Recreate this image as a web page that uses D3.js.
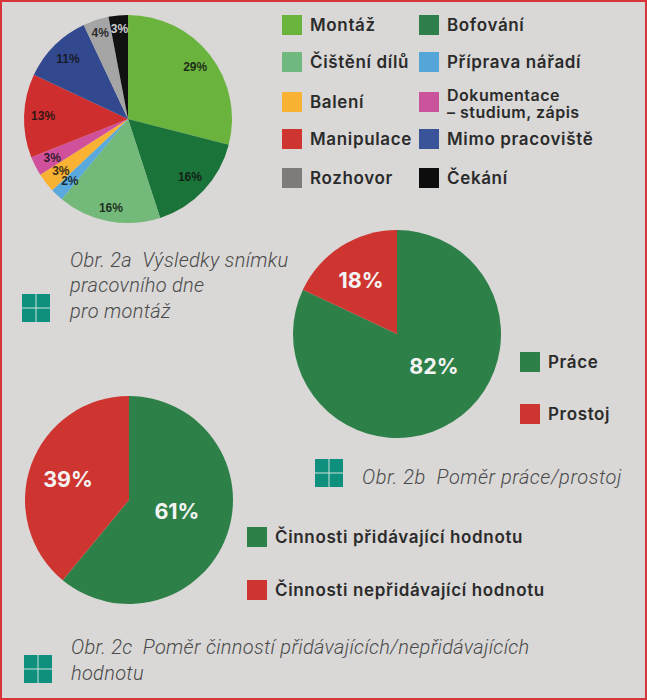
<!DOCTYPE html>
<html>
<head>
<meta charset="utf-8">
<script src="https://cdn.jsdelivr.net/npm/d3@7"></script>
<style>
    html, body { margin: 0; padding: 0; background: #d9d8d7; overflow: hidden; }
    svg { display: block; }
    text { white-space: pre; }
    .legend { font-family: Inter, sans-serif; font-weight: 600; font-size: 17px; letter-spacing: 0.65px; fill: #2b2b2b; }
    .legend.tight { font-size: 16px; letter-spacing: 0.5px; }
    .caption { font-family: Roboto, sans-serif; font-style: italic; font-weight: 300; font-size: 20px; letter-spacing: 0.3px; fill: #4a4a4a; }
    .small-label { font-family: "Liberation Sans", sans-serif; font-weight: 700; font-size: 12px; text-anchor: middle; }
    .big-label { font-family: Inter, sans-serif; font-weight: 700; font-size: 21.5px; fill: #f4f4f4; text-anchor: middle; }
</style>
</head>
<body>
<svg id="chart" width="647" height="700"></svg>
<script>
const activities = ["Montáž", "Bofování", "Čištění dílů", "Příprava nářadí", "Balení",
    "Dokumentace – studium, zápis", "Manipulace", "Mimo pracoviště", "Rozhovor", "Čekání"];
const activityValues = [29, 16, 16, 2, 3, 3, 13, 11, 4, 3];
const activityColors = ["#6ab43e", "#1a7339", "#73b979", "#5aa9dc", "#f9b233",
    "#d0509c", "#cf2e2e", "#33498f", "#a5a5a5", "#111111"];
const activitySwatches = ["#6ab43e", "#2f7f4a", "#6fb97f", "#55a5d8", "#f9b233",
    "#c9549b", "#cf3530", "#3a5499", "#7e7b7a", "#0d0d0d"];

const workCategories = ["Práce", "Prostoj"];
const workValues = [82, 18];

const valueCategories = ["Činnosti přidávající hodnotu", "Činnosti nepřidávající hodnotu"];
const valueValues = [61, 39];

const green = "#2e8049", red = "#cf3530";

const svg = d3.select("#chart");

svg.append("rect")
    .attr("x", 1).attr("y", 1)
    .attr("width", 645).attr("height", 698)
    .attr("fill", "#d9d8d7")
    .attr("stroke", "#d8343a")
    .attr("stroke-width", 2);

const pie = d3.pie().sort(null).value(d => d);

function drawPie(values, colors, cx, cy) {
    const g = svg.append("g").attr("transform", `translate(${cx},${cy})`);
    const arc = d3.arc().innerRadius(0).outerRadius(104);
    const slices = pie(values);
    g.selectAll("path")
        .data(slices)
        .enter().append("path")
        .attr("d", arc)
        .attr("fill", (d, i) => colors[i]);
    return { g, slices };
}

// first pie, labels sit near the rim, a few of them further out
const pieA = drawPie(activityValues, activityColors, 128, 119);
const labelRadius = [85, 85, 91, 85, 85, 85, 85, 85, 90, 90];
function labelPos(d, i) {
    return d3.arc().innerRadius(labelRadius[i]).outerRadius(labelRadius[i]).centroid(d);
}
pieA.g.selectAll("text")
    .data(pieA.slices)
    .enter().append("text")
    .attr("class", "small-label")
    .attr("x", (d, i) => labelPos(d, i)[0])
    .attr("y", (d, i) => labelPos(d, i)[1] + 4)
    .attr("fill", (d, i) => i === 9 ? "#f2f2f2" : "#111")
    .attr("fill-opacity", 0.85)
    .text(d => d.value + "%");

function bigLabels(p, offsets) {
    const arc = d3.arc().innerRadius(0).outerRadius(104);
    p.g.selectAll("text")
        .data(p.slices)
        .enter().append("text")
        .attr("class", "big-label")
        .attr("x", (d, i) => arc.centroid(d)[0] + offsets[i][0])
        .attr("y", (d, i) => arc.centroid(d)[1] + offsets[i][1] + 7)
        .text(d => d.value + "%");
}

bigLabels(drawPie(workValues, [green, red], 397, 334), [[9, -11], [-8, -9]]);
bigLabels(drawPie(valueValues, [green, red], 129, 500), [[-1, -6], [-12, -2]]);

function swatch(x, y, color) {
    svg.append("rect")
        .attr("x", x).attr("y", y - 10)
        .attr("width", 20).attr("height", 20)
        .attr("fill", color);
}

function legendItem(x, y, color, lines) {
    swatch(x, y, color);
    const twoLines = lines.length > 1;
    lines.forEach(function (line, i) {
        svg.append("text")
            .attr("class", twoLines ? "legend tight" : "legend")
            .attr("x", x + 28)
            .attr("y", twoLines ? y - 1 + i * 17 : y + 6)
            .text(line);
    });
}

const rowY = [25, 62, 102, 139, 178];
activities.forEach(function (name, i) {
    const lines = name.startsWith("Dokumentace") ? ["Dokumentace", "– studium, zápis"] : [name];
    legendItem(i % 2 ? 419 : 282, rowY[Math.floor(i / 2)], activitySwatches[i], lines);
});

workCategories.forEach(function (name, i) {
    legendItem(520, 362 + i * 52, [green, red][i], [name]);
});
valueCategories.forEach(function (name, i) {
    legendItem(247, 537 + i * 53, [green, red][i], [name]);
});

function caption(x, baselines, lines, spacing) {
    lines.forEach(function (line, i) {
        svg.append("text")
            .attr("class", "caption")
            .attr("x", x)
            .attr("y", baselines[i])
            .style("letter-spacing", spacing)
            .text(line);
    });
}

caption(70, [267, 292, 318], ["Obr. 2a  Výsledky snímku", "pracovního dne", "pro montáž"]);
caption(362, [484], ["Obr. 2b  Poměr práce/prostoj"], "0.52px");
caption(71, [654, 680], ["Obr. 2c  Poměr činností přidávajících/nepřidávajících", "hodnotu"]);

function icon(x, y) {
    const g = svg.append("g").attr("transform", `translate(${x},${y})`);
    g.append("rect").attr("width", 28).attr("height", 28).attr("fill", "#0f8f7e");
    g.append("path").attr("d", "M14,0V28M0,14H28").attr("stroke", "#cfe3de").attr("stroke-width", 1);
}

icon(22, 294);
icon(315, 459);
icon(24, 655);
</script>
</body>
</html>
